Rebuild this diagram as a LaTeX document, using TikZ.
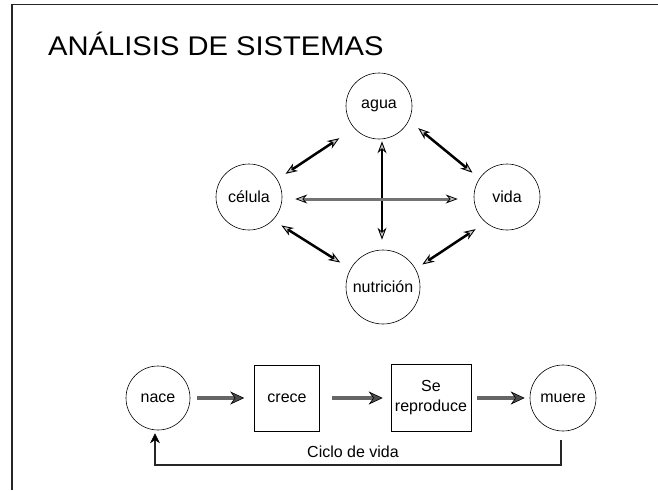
\documentclass[tikz,border=0pt]{standalone}
\usepackage{fontspec}
\setmainfont{Liberation Sans}
\usetikzlibrary{arrows.meta,calc}
\begin{document}
\begin{tikzpicture}[x=1pt,y=-1pt,
  txt/.style={font=\fontsize{16}{20}\selectfont},
  circ/.style={circle,draw,line width=0.6pt,minimum size=66pt,inner sep=0pt,txt},
  boxn/.style={rectangle,draw,line width=0.6pt,inner sep=0pt,txt,align=center},
  biarrow/.style={line width=2.5pt,black,
    {Stealth[length=12pt,width=9pt,fill=gray!40,line width=0.9pt]}-{Stealth[length=12pt,width=9pt,fill=gray!40,line width=0.9pt]}},
  hbiarrow/.style={line width=3pt,black!55,
    {Stealth[length=12pt,width=9pt,fill=gray!50,color=black,line width=0.8pt]}-{Stealth[length=12pt,width=9pt,fill=gray!50,color=black,line width=0.8pt]}},
  steparrow/.style={line width=4pt,black!60,
    -{Stealth[length=14pt,width=13pt,fill=black!70,color=black,line width=0.6pt]}},
  cyclearrow/.style={line width=2.6pt,black!85,
    -{Stealth[length=10pt,width=10pt,fill=black,color=black,line width=0.6pt]}}
]
\useasboundingbox (0,0) rectangle (658,490);
\fill[white] (0,0) rectangle (658,490);
% frame
\draw[line width=1.2pt,black!85] (12,490) -- (12,4.5) -- (658,4.5);
% title
\node[anchor=base west,inner sep=0pt,font=\fontsize{27}{32}\selectfont] (title) at (48,55)
  {\scalebox{1.08}[1]{ANÁLISIS DE SISTEMAS}};
% upper diagram
\node[circ] (agua) at (379,106) {agua};
\node[circ] (celula) at (249,197) {célula};
\node[circ] (vida) at (507,197) {vida};
\node[circ,minimum size=74pt] (nutricion) at (383,287) {nutrición};
\draw[biarrow,shorten <=10pt,shorten >=18pt] (celula.32) -- (agua.222);
\draw[biarrow,shorten <=12pt,shorten >=9pt] (agua.334) -- (vida.146);
\draw[biarrow,shorten <=2pt,shorten >=10pt] ([xshift=3pt]agua.south) -- ([xshift=-1pt]nutricion.north);
\draw[hbiarrow,shorten <=13pt,shorten >=16pt] ([yshift=-2pt]celula.east) -- ([yshift=-2pt]vida.west);
\draw[biarrow,shorten <=10pt,shorten >=12pt] (celula.316) -- (nutricion.151);
\draw[biarrow,shorten <=12pt,shorten >=8pt] (vida.230) -- (nutricion.29);
% lower diagram
\node[circ,minimum size=64pt] (nace) at (158,398) {nace};
\node[boxn,minimum width=65pt,minimum height=66pt] (crece) at (287,398) {crece};
\node[boxn,minimum width=80pt,minimum height=67pt] (repro) at (431,398) {Se\\reproduce};
\node[circ] (muere) at (563,398) {muere};
\draw[steparrow,shorten <=7pt,shorten >=10pt] (nace.east) -- (crece.west);
\draw[steparrow,shorten <=12pt,shorten >=8pt] (crece.east) -- (repro.west);
\draw[steparrow,shorten <=6pt,shorten >=5pt] (repro.east) -- (muere.west);
\coordinate (loopL) at (155,465);
\draw[cyclearrow] ($(muere.south)+(-2,9)$) |- (loopL) -- ($(nace.south)+(-3,3)$);
\node[txt,inner sep=0pt] (ciclo) at (353,452) {Ciclo de vida};
\end{tikzpicture}
\end{document}
